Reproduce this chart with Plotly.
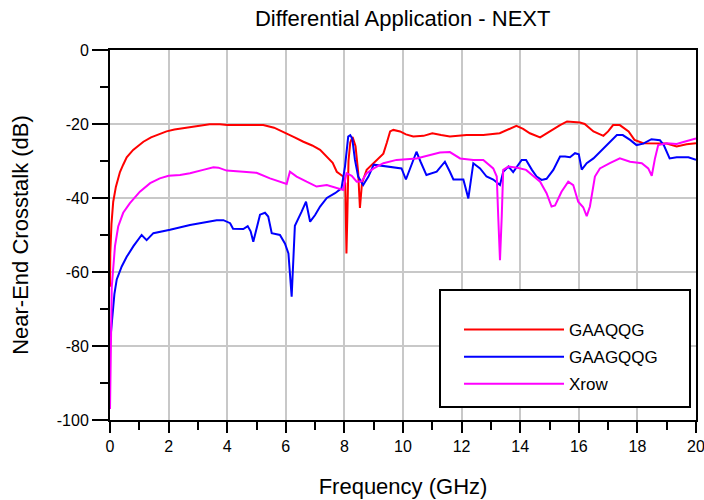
import plotly.graph_objects as go

# ---- data ----
red_x = [0.0, 0.01, 0.05, 0.11, 0.2, 0.34, 0.45, 0.57, 0.79, 1.0, 1.14, 1.4, 1.59, 1.93, 2.2, 2.5, 2.8, 3.07,
         3.4, 3.75, 4.0, 4.6, 5.23, 5.6, 6.03, 6.3, 6.6, 6.9, 7.17, 7.4, 7.6, 7.74, 7.96, 8.03, 8.07, 8.1,
         8.14, 8.2, 8.28, 8.38, 8.47, 8.53, 8.6, 8.76, 9.1, 9.33, 9.45, 9.56, 9.67, 9.9, 10.1, 10.35, 10.7,
         11.0, 11.3, 11.6, 12.17, 12.74, 13.3, 13.6, 13.87, 14.1, 14.33, 14.68, 15.0, 15.36, 15.6, 16.04,
         16.2, 16.5, 16.84, 17.0, 17.17, 17.4, 17.7, 17.9, 18.2, 18.65, 19.0, 19.34, 19.68, 20.0]
red_y = [-64, -55, -47, -41, -37, -33, -31, -29, -27, -25.6, -24.8, -23.6, -23, -22, -21.5, -21.2, -20.8, -20.5,
         -20.1, -20.1, -20.3, -20.3, -20.3, -21, -22.5, -23.6, -24.8, -25.8, -27, -28.8, -30.5, -32.9, -34.2,
         -36, -55, -45, -30, -25, -23.5, -26, -33, -42.7, -36, -32.4, -29.7, -28, -25, -22, -21.6, -22, -22.8,
         -23.4, -23.2, -22.5, -23, -23.4, -23, -23, -22.5, -21.5, -20.5, -21.3, -22.5, -23.6, -22, -20.3,
         -19.3, -19.6, -20, -22, -23.2, -22, -20.3, -20.3, -22, -24.3, -25.2, -25.2, -25.3, -26.1, -25.5, -25.2]

blue_x = [0.02, 0.08, 0.15, 0.23, 0.4, 0.57, 0.8, 1.08, 1.25, 1.48, 2.05, 2.73, 3.18, 3.64, 3.87, 4.1, 4.2,
          4.55, 4.7, 4.8, 4.89, 5.0, 5.12, 5.29, 5.4, 5.52, 5.8, 5.97, 6.09, 6.2, 6.25, 6.31, 6.54, 6.69,
          6.83, 7.0, 7.17, 7.4, 7.68, 7.9, 8.02, 8.13, 8.2, 8.27, 8.36, 8.47, 8.64, 8.82, 9.0, 9.5, 9.95,
          10.1, 10.3, 10.46, 10.6, 10.8, 11.15, 11.43, 11.6, 11.72, 12.06, 12.23, 12.4, 12.63, 12.85, 13.08,
          13.31, 13.42, 13.6, 13.76, 14.05, 14.2, 14.4, 14.56, 14.73, 14.9, 15.13, 15.36, 15.53, 15.7, 15.87,
          16.0, 16.1, 16.27, 16.5, 16.84, 17.1, 17.3, 17.5, 17.75, 17.97, 18.2, 18.48, 18.77, 18.9, 19.1,
          19.34, 19.74, 20.0]
blue_y = [-77.5, -71, -66, -62, -58.5, -55.9, -53, -50, -51.4, -49.5, -48.6, -47.3, -46.7, -46, -46, -46.8,
          -48.3, -48.4, -47.6, -49, -51.8, -48, -44.5, -44, -45, -49.5, -50, -52.3, -55, -66.7, -57.6, -47.5,
          -43.7, -41, -46.4, -44.6, -42.3, -40, -38.7, -37.4, -31.5, -23.4, -23, -24, -29.7, -34.2, -36.5,
          -34.2, -31, -31.5, -32, -35, -31, -27.5, -30.2, -33.8, -32.9, -30.2, -32.9, -35, -35, -40.1, -30.6,
          -32, -34.2, -35, -36.5, -32.9, -31.5, -33, -29.7, -29.7, -32.4, -34.2, -35.1, -34.8, -32.4, -28.8,
          -28.8, -29, -27.9, -28.2, -32.3, -30.6, -29.3, -26.6, -24.5, -23, -23, -24.3, -25.7, -25.3, -24.1,
          -24.4, -25.7, -29.3, -29, -29, -29.7]

mag_x = [0.0, 0.02, 0.06, 0.17, 0.28, 0.45, 0.68, 1.02, 1.37, 1.7, 2.0, 2.39, 2.73, 3.18, 3.53, 3.7, 3.98,
         4.55, 5.0, 5.46, 5.91, 6.03, 6.14, 6.37, 6.71, 7.05, 7.4, 7.74, 7.96, 8.07, 8.25, 8.42, 8.59, 8.76,
         9.0, 9.33, 9.78, 10.46, 10.92, 11.26, 11.6, 11.95, 12.4, 12.74, 13.08, 13.2, 13.25, 13.31, 13.37,
         13.42, 13.6, 13.9, 14.2, 14.45, 14.68, 14.9, 15.07, 15.19, 15.41, 15.64, 15.81, 15.98, 16.15, 16.27,
         16.38, 16.55, 16.72, 17.06, 17.4, 17.75, 18.15, 18.37, 18.49, 18.6, 18.71, 19.0, 19.34, 19.6, 20.0]
mag_y = [-97, -80, -64, -53, -47.7, -44, -41.4, -38.3, -36, -34.7, -34, -33.8, -33.3, -32.4, -31.7, -31.8,
         -32.6, -32.9, -33.2, -34.7, -36, -36.2, -32.9, -34.2, -35.6, -36.9, -36.5, -37.4, -37.8, -33.3, -34,
         -35.6, -35.5, -33.3, -32, -30.6, -29.7, -29.3, -28.4, -27.7, -27.6, -29.3, -29.7, -29.7, -32, -34.2,
         -45, -56.8, -45, -32.4, -31.5, -31.8, -32.4, -34.2, -35.6, -38.7, -42.3, -42, -38.3, -35.6, -36.5,
         -41, -42.5, -44.9, -42.3, -34.2, -32, -30.6, -29.3, -30.2, -30.6, -32, -34, -29.3, -25.7, -25.2,
         -25.4, -24.8, -23.9]

series_names = ["GAAQQG", "GAAGQQG", "Xrow"]
series_colors = ["#ff0000", "#0000ff", "#ff00ff"]

x_tickvals = [0, 2, 4, 6, 8, 10, 12, 14, 16, 18, 20]
x_ticktext = ["0", "2", "4", "6", "8", "10", "12", "14", "16", "18", "20"]
y_tickvals = [0, -20, -40, -60, -80, -100]
y_ticktext = ["0", "-20", "-40", "-60", "-80", "-100"]

FONT = "Liberation Sans, Arial, sans-serif"

fig = go.Figure()
for name, color, xs, ys in zip(series_names, series_colors,
                               [red_x, blue_x, mag_x], [red_y, blue_y, mag_y]):
    fig.add_trace(go.Scatter(x=xs, y=ys, mode="lines", name=name, legendgroup=name,
                             line=dict(color=color, width=2)))

# legend frame (white box with black border)
fig.add_shape(type="rect", xref="paper", yref="paper",
              x0=(440 - 110) / 586, x1=(690 - 110) / 586,
              y0=(420 - 407) / 370, y1=(420 - 290) / 370,
              line=dict(color="black", width=2), fillcolor="white", layer="above")

fig.update_layout(
    width=704, height=500,
    margin=dict(l=110, r=8, t=50, b=80),
    paper_bgcolor="white", plot_bgcolor="white",
    font=dict(family=FONT, color="black", size=16),
    title=dict(text="Differential Application - NEXT", x=0.572, xanchor="center",
               y=1 - 18 / 500, yanchor="middle", font=dict(size=22, family=FONT)),
    showlegend=True,
    legend=dict(x=(459 - 110) / 586, y=(420 - 312) / 370, xanchor="left", yanchor="top",
                bgcolor="rgba(0,0,0,0)", borderwidth=0,
                font=dict(size=17, family=FONT), itemwidth=100,
                tracegroupgap=2),
)

fig.update_xaxes(
    range=[0, 20], tickmode="array", tickvals=x_tickvals, ticktext=x_ticktext,
    automargin=False, ticklabeloverflow="allow",
    showgrid=True, gridcolor="#c8c8c8", gridwidth=2,
    showline=True, linecolor="black", linewidth=2, mirror=True,
    ticks="outside", ticklen=11, tickwidth=2, tickcolor="black",
    minor=dict(dtick=1, tick0=0, ticks="outside", ticklen=8, tickwidth=2, tickcolor="black", showgrid=False),
    zeroline=False,
    title=dict(text="Frequency (GHz)", font=dict(size=22, family=FONT), standoff=24),
    tickfont=dict(size=16, family=FONT),
)
fig.update_yaxes(
    range=[-100, 0], tickmode="array", tickvals=y_tickvals, ticktext=y_ticktext,
    automargin=False,
    showgrid=True, gridcolor="#c8c8c8", gridwidth=2,
    showline=True, linecolor="black", linewidth=2, mirror=True,
    ticks="outside", ticklen=16, tickwidth=2, tickcolor="black",
    minor=dict(dtick=10, tick0=0, ticks="outside", ticklen=8, tickwidth=2, tickcolor="black", showgrid=False),
    zeroline=False,
    title=dict(text="Near-End Crosstalk (dB)", font=dict(size=22, family=FONT), standoff=22),
    tickfont=dict(size=16, family=FONT),
)

fig.write_html("out.html", config={"displayModeBar": False},
               post_script="document.body.style.margin='0px';")
